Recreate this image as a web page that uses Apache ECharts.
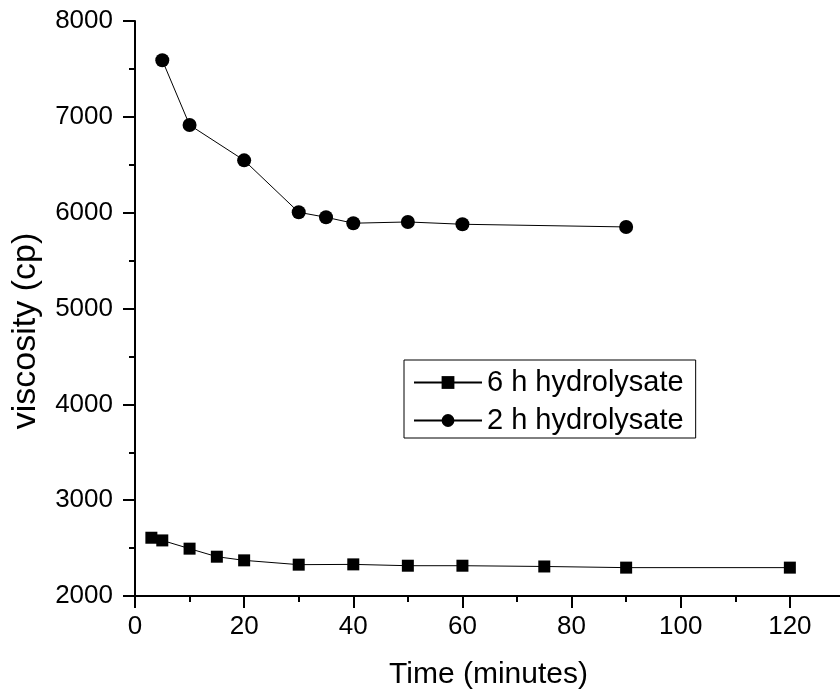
<!DOCTYPE html>
<html>
<head>
<meta charset="utf-8">
<script src="https://cdn.jsdelivr.net/npm/echarts@6/dist/echarts.min.js"></script>
<style>
html,body{margin:0;padding:0;background:#fff;overflow:hidden;width:840px;height:693px;}
#chart{width:900px;height:693px;}
</style>
</head>
<body>
<div id="chart"></div>
<script>
var time6h = [3, 5, 10, 15, 20, 30, 40, 50, 60, 75, 90, 120];
var visc6h = [2608, 2580, 2494, 2410, 2372, 2327, 2330, 2316, 2316, 2308, 2296, 2296];
var time2h = [5, 10, 20, 30, 35, 40, 50, 60, 90];
var visc2h = [7591, 6915, 6546, 6004, 5952, 5890, 5903, 5879, 5851];
var seriesNames = ['6 h hydrolysate', '2 h hydrolysate'];
var xTitle = 'Time (minutes)';
var yTitle = 'viscosity (cp)';

function pairs(xs, ys) { return xs.map(function (x, i) { return [x, ys[i]]; }); }

var FONT = 'Liberation Sans, Arial, sans-serif';
var chart = echarts.init(document.getElementById('chart'), null, {renderer: 'canvas', width: 900, height: 693});
chart.setOption({
  animation: false,
  backgroundColor: '#fff',
  grid: {left: 135, top: 21, width: 764, height: 575, containLabel: false},
  xAxis: {
    type: 'value', min: 0, max: 140, interval: 20,
    axisLine: {show: true, lineStyle: {color: '#000', width: 2}},
    axisTick: {show: true, inside: false, length: 12, lineStyle: {color: '#000', width: 2}},
    minorTick: {show: true, splitNumber: 2, length: 6, lineStyle: {color: '#000', width: 2}},
    splitLine: {show: false},
    axisLabel: {color: '#000', fontSize: 26, fontFamily: FONT, margin: 18, showMaxLabel: false}
  },
  yAxis: {
    type: 'value', min: 2000, max: 8000, interval: 1000,
    axisLine: {show: true, onZero: false, lineStyle: {color: '#000', width: 2}},
    axisTick: {show: true, inside: false, length: 12, lineStyle: {color: '#000', width: 2}},
    minorTick: {show: true, splitNumber: 2, length: 6, lineStyle: {color: '#000', width: 2}},
    splitLine: {show: false},
    axisLabel: {color: '#000', fontSize: 26, fontFamily: FONT, margin: 22,
      formatter: function (v) { return String(v); }}
  },
  legend: {
    orient: 'vertical',
    left: 404, top: 360,
    padding: [8, 12, 3, 9],
    itemGap: 9,
    itemWidth: 68, itemHeight: 16,
    borderColor: '#000', borderWidth: 1,
    textStyle: {color: '#000', fontSize: 29, fontFamily: FONT},
    data: seriesNames
  },
  series: [
    {
      name: seriesNames[0], type: 'line', data: pairs(time6h, visc6h),
      symbol: 'rect', symbolSize: 12,
      itemStyle: {color: '#000'}, lineStyle: {color: '#000', width: 1}
    },
    {
      name: seriesNames[1], type: 'line', data: pairs(time2h, visc2h),
      symbol: 'circle', symbolSize: 14,
      itemStyle: {color: '#000'}, lineStyle: {color: '#000', width: 1}
    }
  ],
  graphic: [
    {type: 'text', x: 488.5, y: 675, style: {text: xTitle, fill: '#000', font: '30px ' + FONT, textAlign: 'center', textVerticalAlign: 'middle'}},
    {type: 'text', x: 26, y: 331, rotation: Math.PI / 2, style: {text: yTitle, fill: '#000', font: '34px ' + FONT, textAlign: 'center', textVerticalAlign: 'middle'}}
  ]
});
</script>
</body>
</html>
